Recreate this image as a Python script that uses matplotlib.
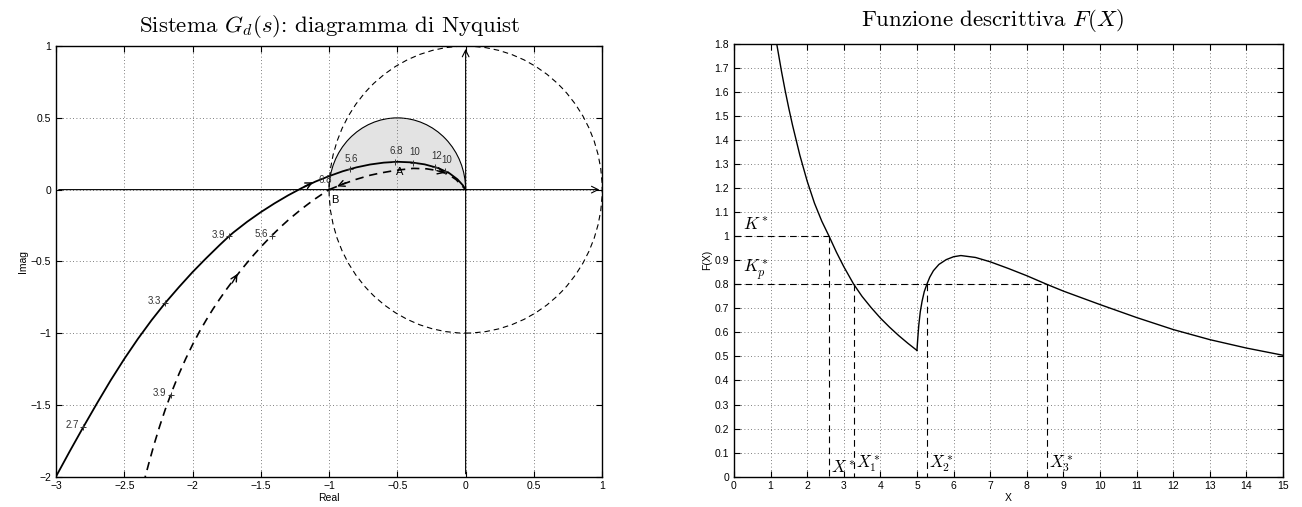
import numpy as np
import matplotlib
matplotlib.use('Agg')
import matplotlib.pyplot as plt
from matplotlib.patches import Wedge, Circle

plt.rcParams['mathtext.fontset'] = 'cm'
plt.rcParams['font.family'] = ['Liberation Sans', 'DejaVu Sans']
plt.rcParams['axes.unicode_minus'] = True

# ---------------- Left: Nyquist data ----------------
solid_re = [-3.0, -2.9, -2.8, -2.7, -2.6, -2.5, -2.4, -2.3, -2.2, -2.1, -2.0, -1.9,
            -1.8, -1.733, -1.7, -1.6, -1.5, -1.4, -1.3, -1.2, -1.1, -1.0, -0.9, -0.8,
            -0.7, -0.6, -0.5, -0.4, -0.3, -0.2, -0.12, -0.06, -0.02, 0.0]
solid_im = [-2.0, -1.825, -1.655, -1.49, -1.33, -1.18, -1.04, -0.91, -0.79, -0.68, -0.575, -0.478,
            -0.385, -0.325, -0.298, -0.224, -0.157, -0.096, -0.040, 0.011, 0.056, 0.094, 0.128, 0.155,
            0.175, 0.188, 0.194, 0.190, 0.176, 0.150, 0.115, 0.072, 0.030, 0.0]

dash_out_re = [-2.36, -2.32, -2.28, -2.24, -2.2, -2.15, -2.1, -2.05, -2.0, -1.95, -1.9, -1.85,
               -1.8, -1.75, -1.7, -1.65, -1.6, -1.55, -1.5, -1.45, -1.4, -1.35, -1.3, -1.25,
               -1.2, -1.15, -1.1, -1.05, -1.0]
dash_out_im = [-2.05, -1.907, -1.771, -1.647, -1.533, -1.404, -1.286, -1.179, -1.081, -0.991, -0.909, -0.832,
               -0.761, -0.693, -0.629, -0.567, -0.509, -0.453, -0.400, -0.350, -0.302, -0.256, -0.213, -0.173,
               -0.134, -0.098, -0.063, -0.031, 0.0]

dash_in_re = [-1.0, -0.9, -0.8, -0.7, -0.628, -0.55, -0.48, -0.384, -0.286, -0.2, -0.13, -0.07, 0.0]
dash_in_im = [0.0, 0.038, 0.072, 0.1, 0.115, 0.128, 0.138, 0.148, 0.145, 0.132, 0.108, 0.07, 0.0]

solid_marks = [("2.7", -2.8, -1.655), ("3.3", -2.2, -0.79), ("3.9", -1.733, -0.325)]
solid_marks_in = [("5.6", -0.849, 0.142), ("6.8", -0.518, 0.193), ("10", -0.384, 0.188),
                  ("12", -0.225, 0.157), ("10", -0.15, 0.133)]
dash_marks = [("3.9", -2.16, -1.43), ("5.6", -1.42, -0.32)]
dash_marks_in = [("6.8", -1.0, 0.0)]

# ---------------- Right: describing function data ----------------
fx_a = [1.17, 1.3, 1.4, 1.5, 1.6, 1.8, 2.0, 2.2, 2.4, 2.6, 2.8, 3.0, 3.27,
        3.5, 3.75, 4.0, 4.25, 4.5, 4.75, 5.0]
fy_a = [1.8, 1.686, 1.606, 1.532, 1.463, 1.338, 1.230, 1.138, 1.063, 1.0, 0.934, 0.874, 0.801,
        0.75, 0.703, 0.66, 0.622, 0.587, 0.555, 0.525]
fx_b = [5.0, 5.02, 5.05, 5.09, 5.14, 5.2, 5.27, 5.35, 5.45, 5.6, 5.8, 6.0, 6.2, 6.6, 7.0,
        7.5, 8.0, 8.55, 9.0, 9.5, 10.0, 11.0, 12.0, 13.0, 14.0, 15.0]
fy_b = [0.525, 0.57, 0.63, 0.685, 0.73, 0.77, 0.8, 0.83, 0.857, 0.883, 0.903, 0.915, 0.92, 0.912, 0.894,
        0.866, 0.836, 0.8, 0.772, 0.744, 0.716, 0.662, 0.612, 0.57, 0.535, 0.505]
K_star = 1.0
Kp_star = 0.8
X_star = 2.6
X_cross = [3.27, 5.27, 8.55]

fig = plt.figure(figsize=(13.02, 5.07), dpi=100)
ax1 = fig.add_axes([0.043, 0.060, 0.4195, 0.849])
ax2 = fig.add_axes([0.5637, 0.060, 0.4217, 0.853])

tickfs = 7.5
for ax in (ax1, ax2):
    ax.tick_params(direction='in', top=True, right=True, labelsize=tickfs, length=4, width=0.8)
    ax.grid(True, linestyle=(0, (1, 3)), color='#555555', linewidth=0.6)
    for s in ax.spines.values():
        s.set_linewidth(1.0)

dash = (0, (5, 3.5))

# ---- left axes ----
ax1.set_xlim(-3, 1)
ax1.set_ylim(-2, 1)
ax1.set_xticks(np.arange(-3, 1.01, 0.5))
ax1.set_yticks(np.arange(-2, 1.01, 0.5))
ax1.set_xticklabels(['\u22123', '\u22122.5', '\u22122', '\u22121.5', '\u22121', '\u22120.5', '0', '0.5', '1'])
ax1.set_yticklabels(['\u22122', '\u22121.5', '\u22121', '\u22120.5', '0', '0.5', '1'])
ax1.set_xlabel('Real', fontsize=7.5, labelpad=1)
ax1.set_ylabel('Imag', fontsize=7.5, labelpad=2)
ax1.set_title(r'Sistema $G_d(s)$: diagramma di Nyquist', fontsize=16.5,
              family='cmr10', pad=10)

ax1.add_patch(Wedge((-0.5, 0), 0.5, 0, 180, facecolor='#e3e3e3', edgecolor='black', linewidth=0.8, zorder=1))
ax1.add_patch(Circle((0, 0), 1.0, fill=False, edgecolor='black', linestyle=dash, linewidth=0.8, zorder=2))

ax1.annotate('', xy=(1, 0), xytext=(-3, 0),
             arrowprops=dict(arrowstyle='->', lw=0.8, color='black', mutation_scale=12), zorder=3)
ax1.annotate('', xy=(0, 1), xytext=(0, -2),
             arrowprops=dict(arrowstyle='->', lw=0.8, color='black', mutation_scale=12), zorder=3)

ax1.plot(solid_re, solid_im, color='black', linewidth=1.3, zorder=4)
ax1.plot(dash_out_re, dash_out_im, color='black', linewidth=1.2, linestyle=dash, zorder=4)
ax1.plot(dash_in_re, dash_in_im, color='black', linewidth=1.2, linestyle=dash, zorder=4)

mk = dict(marker='+', color='#333333', markersize=4, markeredgewidth=0.7, zorder=5)
for lbl, x, y in solid_marks + dash_marks:
    ax1.plot(x, y, **mk)
    ax1.text(x - 0.03, y + 0.012, lbl, fontsize=7, color='#333333', ha='right', va='center', zorder=5)
for lbl, x, y in solid_marks_in:
    ax1.plot(x, y, **mk)
    ax1.text(x + 0.01, y + 0.04, lbl, fontsize=7, color='#333333', ha='center', va='bottom', zorder=5)
for lbl, x, y in dash_marks_in:
    ax1.text(x - 0.03, y + 0.07, lbl, fontsize=7, color='#333333', ha='center', va='center', zorder=5)

ax1.text(-0.48, 0.125, 'A', fontsize=8, ha='center', va='center', zorder=6)
ax1.text(-0.985, -0.07, 'B', fontsize=8, ha='left', va='center', zorder=6)

arrow_kw = dict(arrowstyle='->', lw=1.0, color='black', mutation_scale=11)
ax1.annotate('', xy=(-1.10, 0.06), xytext=(-1.20, 0.012), arrowprops=arrow_kw, zorder=6)
ax1.annotate('', xy=(-1.66, -0.57), xytext=(-1.72, -0.667), arrowprops=arrow_kw, zorder=6)
ax1.annotate('', xy=(-0.96, 0.015), xytext=(-0.86, 0.055), arrowprops=arrow_kw, zorder=6)
ax1.annotate('', xy=(-0.13, 0.112), xytext=(-0.23, 0.137), arrowprops=arrow_kw, zorder=6)

# ---- right axes ----
ax2.set_xlim(0, 15)
ax2.set_ylim(0, 1.8)
ax2.set_xticks(np.arange(0, 15.01, 1))
ax2.set_yticks(np.round(np.arange(0, 1.801, 0.1), 1))
ax2.set_yticklabels([('%g' % v) for v in np.round(np.arange(0, 1.801, 0.1), 1)])
ax2.set_xlabel('X', fontsize=7.5, labelpad=1)
ax2.set_ylabel('F(X)', fontsize=7.5, labelpad=2)
ax2.set_title(r'Funzione descrittiva $F(X)$', fontsize=16.5, family='cmr10', pad=13, x=0.47)

ax2.plot(fx_a, fy_a, color='black', linewidth=1.0, zorder=4)
ax2.plot(fx_b, fy_b, color='black', linewidth=1.0, zorder=4)

ldash = (0, (6, 4))
ax2.plot([0, X_star], [K_star, K_star], color='black', linestyle=ldash, linewidth=0.8)
ax2.plot([X_star, X_star], [K_star, 0], color='black', linestyle=ldash, linewidth=0.8)
ax2.plot([0, X_cross[-1]], [Kp_star, Kp_star], color='black', linestyle=ldash, linewidth=0.8)
for xc in X_cross:
    ax2.plot([xc, xc], [Kp_star, 0], color='black', linestyle=ldash, linewidth=0.8)

ax2.text(0.25, K_star + 0.01, r'$K^*$', fontsize=12.5, ha='left', va='bottom')
ax2.text(0.25, Kp_star + 0.01, r'$K_p^*$', fontsize=12.5, ha='left', va='bottom')
ax2.text(X_star + 0.04, 0.005, r'$X^*$', fontsize=12, ha='left', va='bottom')
labels_x = [r'$X_1^*$', r'$X_2^*$', r'$X_3^*$']
for xc, lb in zip(X_cross, labels_x):
    ax2.text(xc + 0.07, 0.005, lb, fontsize=12, ha='left', va='bottom')

fig.savefig('out.png', dpi=100)
